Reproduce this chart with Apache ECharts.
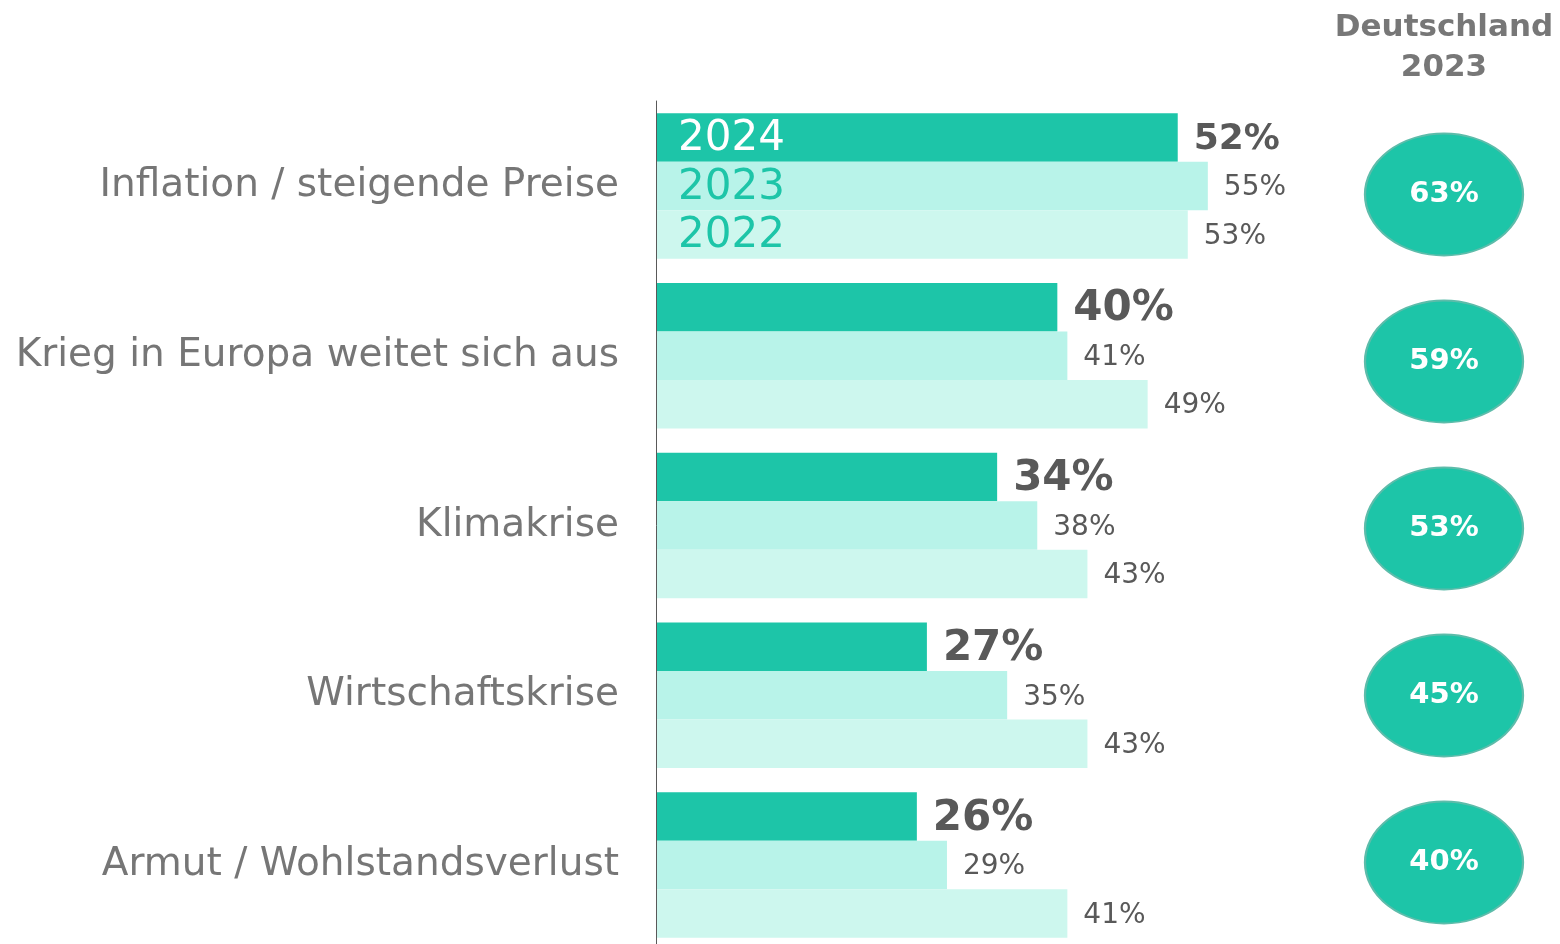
<!DOCTYPE html>
<html>
<head>
<meta charset="utf-8">
<script src="https://cdn.jsdelivr.net/npm/echarts@6/dist/echarts.min.js"></script>
<style>
  html, body { margin: 0; padding: 0; background: #fff; overflow: hidden; }
  /* etwas höher als das Fenster, damit die letzte Gruppe wie im Original unten angeschnitten wird */
  #main { width: 1560px; height: 960px; }
</style>
</head>
<body>
<div id="main"></div>
<script>
// Daten
const categories = [
  'Inflation / steigende Preise',
  'Krieg in Europa weitet sich aus',
  'Klimakrise',
  'Wirtschaftskrise',
  'Armut / Wohlstandsverlust'
];
const years = ['2024', '2023', '2022'];
const values2024 = [52, 40, 34, 27, 26];
const values2023 = [55, 41, 38, 35, 29];
const values2022 = [53, 49, 43, 43, 41];
const germany2023 = [63, 59, 53, 45, 40];

const teal = '#1dc5a8';
const colors = [teal, '#b8f3e9', '#cdf7ee'];
const fontFam = 'DejaVu Sans';
const barW = 48.5;

const chart = echarts.init(document.getElementById('main'));

const gridBox = { left: 656, top: 101, width: 903, height: 849 };

// Hauptbalken
const mainSeries = [values2024, values2023, values2022].map((vals, s) => ({
  type: 'bar',
  name: years[s],
  xAxisIndex: 0,
  yAxisIndex: 0,
  barWidth: barW,
  barGap: '0%',
  itemStyle: { color: colors[s] },
  data: vals.map((v, i) => {
    const item = { value: v };
    if (s === 0 && i === 0) item.label = { fontSize: 36 };
    return item;
  }),
  label: {
    show: true,
    position: 'right',
    distance: 16,
    offset: [0, 2],
    formatter: '{c}%',
    fontFamily: fontFam,
    color: '#595959',
    fontWeight: s === 0 ? 'bold' : 'normal',
    fontSize: s === 0 ? 42 : 28
  },
  silent: true
}));

// Jahreslabels im ersten Block
const yearSeries = [values2024, values2023, values2022].map((vals, s) => ({
  type: 'bar',
  xAxisIndex: 1,
  yAxisIndex: 1,
  barWidth: barW,
  barGap: '0%',
  itemStyle: { color: 'rgba(0,0,0,0)' },
  data: vals.map((v, i) => (i === 0 ? v : '-')),
  label: {
    show: true,
    position: 'insideLeft',
    distance: 22,
    offset: [0, 2],
    formatter: years[s],
    fontFamily: fontFam,
    fontSize: 42,
    color: s === 0 ? '#ffffff' : teal
  },
  silent: true
}));

const hiddenY = (grid) => ({
  type: 'category',
  gridIndex: grid,
  data: categories,
  inverse: true,
  axisLine: { show: false },
  axisTick: { show: false },
  axisLabel: { show: false },
  splitLine: { show: false }
});
const hiddenX = (grid, max) => ({
  type: 'value',
  gridIndex: grid,
  min: 0,
  max: max,
  show: false,
  splitLine: { show: false }
});

chart.setOption({
  animation: false,
  backgroundColor: '#ffffff',
  grid: [
    gridBox,
    gridBox,
    { left: 1365, top: 111, width: 158, height: 835 }
  ],
  xAxis: [hiddenX(0, 90), hiddenX(1, 90), hiddenX(2, 2)],
  yAxis: [
    {
      type: 'category',
      gridIndex: 0,
      data: categories,
      inverse: true,
      z: 5,
      axisLine: { show: true, lineStyle: { color: '#595959', width: 1 } },
      axisTick: { show: false },
      splitLine: { show: false },
      axisLabel: {
        margin: 37,
        fontFamily: fontFam,
        fontSize: 39,
        color: '#767676'
      }
    },
    hiddenY(1),
    hiddenY(2)
  ],
  graphic: [{
    type: 'text',
    x: 1444,
    y: 8,
    style: {
      text: 'Deutschland\n2023',
      align: 'center',
      textAlign: 'center',
      fontFamily: fontFam,
      fontWeight: 'bold',
      fontSize: 31,
      lineHeight: 40,
      fill: '#777777'
    }
  }],
  series: mainSeries.concat(yearSeries, [{
    type: 'scatter',
    xAxisIndex: 2,
    yAxisIndex: 2,
    symbol: 'circle',
    symbolSize: [158, 122],
    itemStyle: { color: teal, opacity: 1, borderColor: '#5dbcaa', borderWidth: 2 },
    data: germany2023.map((v, i) => [1, categories[i], v]),
    label: {
      show: true,
      position: 'inside',
      formatter: (p) => p.value[2] + '%',
      fontFamily: fontFam,
      fontWeight: 'bold',
      fontSize: 29,
      color: '#ffffff'
    },
    silent: true
  }])
});
</script>
</body>
</html>
